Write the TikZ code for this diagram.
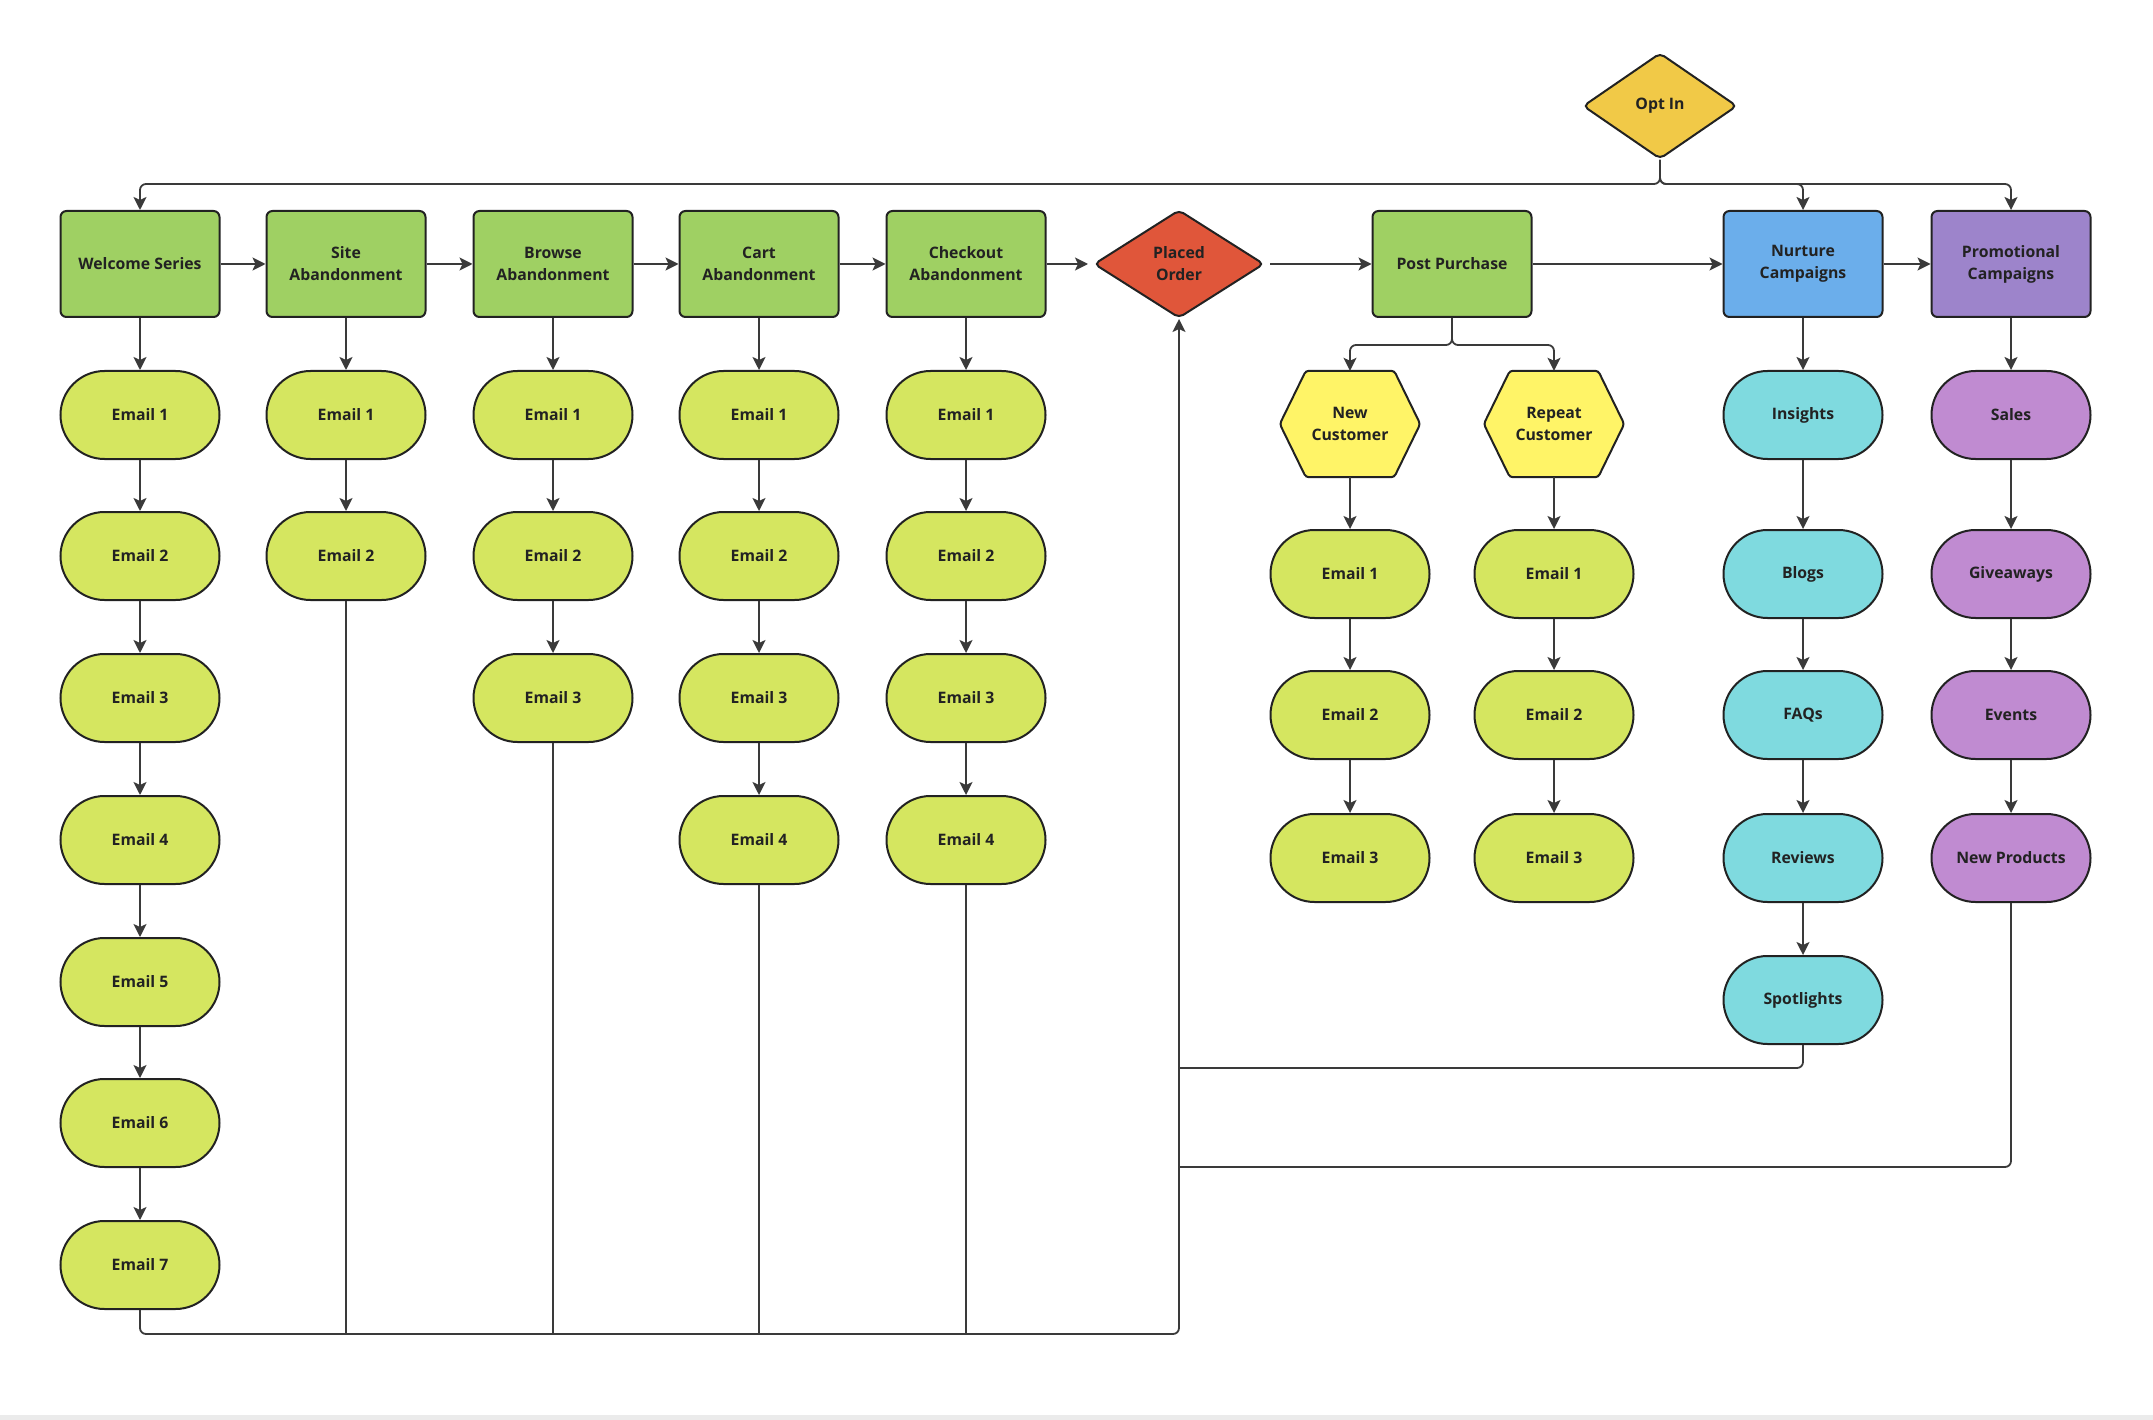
\documentclass[tikz,border=0pt]{standalone}
\usepackage{fontspec}
\setmainfont{Open Sans}
\usetikzlibrary{arrows.meta,shapes.geometric,shapes.misc,backgrounds}

\definecolor{stagegreen}{HTML}{9FD063}
\definecolor{mailgreen}{HTML}{D5E660}
\definecolor{optyellow}{HTML}{F1C947}
\definecolor{orderred}{HTML}{E0563A}
\definecolor{hexyellow}{HTML}{FFF467}
\definecolor{nurtblue}{HTML}{6BAEEB}
\definecolor{promopurple}{HTML}{9D84CB}
\definecolor{nurtcyan}{HTML}{7FDADF}
\definecolor{promopink}{HTML}{C08BD1}
\definecolor{linegray}{HTML}{3A3A3A}
\definecolor{inkdark}{HTML}{222222}

\tikzset{
  every node/.style={font=\fontsize{15.8}{22}\selectfont\bfseries, text=inkdark, align=center},
  stage/.style={rectangle, rounded corners=6pt, draw=inkdark, line width=2pt, fill=stagegreen, minimum width=159pt, minimum height=106pt, inner sep=0pt},
  mail/.style={rounded rectangle, draw=inkdark, line width=2pt, fill=mailgreen, minimum width=159pt, minimum height=88pt, inner sep=0pt},
  decide/.style={diamond, rounded corners=5pt, draw=inkdark, line width=2pt, inner sep=0pt},
  segment/.style={rectangle, minimum width=140pt, minimum height=106pt, inner sep=0pt},
  hexline/.style={draw=inkdark, line width=2pt, fill=hexyellow, rounded corners=3pt},
  wire/.style={draw=linegray, line width=1.8pt, rounded corners=6pt},
  flow/.style={wire, -{Stealth[length=13pt,width=13pt,inset=3pt]}},
}

\begin{document}
\begin{tikzpicture}[x=1pt,y=-1pt]
			%%%%% FRAME %%%%%
			\useasboundingbox (0,0) rectangle (2153,1420);
			\fill[black!8] (0,1415) rectangle (2153,1420);
			
			%%%%% TOP ROW %%%%%
			\node[decide, fill=optyellow, minimum width=154pt, minimum height=106pt] (optin) at (1660,106) {Opt In};
			\node[stage] (welcome) at (140,264) {Welcome Series};
			\node[stage] (site) at (346,264) {Site\\Abandonment};
			\node[stage] (browse) at (553,264) {Browse\\Abandonment};
			\node[stage] (cart) at (759,264) {Cart\\Abandonment};
			\node[stage] (checkout) at (966,264) {Checkout\\Abandonment};
			\node[decide, fill=orderred, minimum width=170pt, minimum height=108pt] (placed) at (1179,264) {Placed\\Order};
			\node[stage] (post) at (1452,264) {Post Purchase};
			\node[stage, fill=nurtblue] (nurture) at (1803,264) {Nurture\\Campaigns};
			\node[stage, fill=promopurple] (promo) at (2011,264) {Promotional\\Campaigns};
			
			%%%%% EMAIL COLUMNS %%%%%
			\node[mail] (w1) at (140,415) {Email 1};
			\node[mail] (w2) at (140,556) {Email 2};
			\node[mail] (w3) at (140,698) {Email 3};
			\node[mail] (w4) at (140,840) {Email 4};
			\node[mail] (w5) at (140,982) {Email 5};
			\node[mail] (w6) at (140,1123) {Email 6};
			\node[mail] (w7) at (140,1265) {Email 7};
			
			\node[mail] (s1) at (346,415) {Email 1};
			\node[mail] (s2) at (346,556) {Email 2};
			
			\node[mail] (b1) at (553,415) {Email 1};
			\node[mail] (b2) at (553,556) {Email 2};
			\node[mail] (b3) at (553,698) {Email 3};
			
			\node[mail] (c1) at (759,415) {Email 1};
			\node[mail] (c2) at (759,556) {Email 2};
			\node[mail] (c3) at (759,698) {Email 3};
			\node[mail] (c4) at (759,840) {Email 4};
			
			\node[mail] (k1) at (966,415) {Email 1};
			\node[mail] (k2) at (966,556) {Email 2};
			\node[mail] (k3) at (966,698) {Email 3};
			\node[mail] (k4) at (966,840) {Email 4};
			
			%%%%% POST PURCHASE %%%%%
			\node[segment] (newcust) at (1350,424) {New\\Customer};
			\node[segment] (repcust) at (1554,424) {Repeat\\Customer};
			\begin{pgfonlayer}{background}
			\draw[hexline] (newcust.west) -- ([xshift=26pt]newcust.north west) -- ([xshift=-26pt]newcust.north east) -- (newcust.east) -- ([xshift=-26pt]newcust.south east) -- ([xshift=26pt]newcust.south west) -- cycle;
			\draw[hexline] (repcust.west) -- ([xshift=26pt]repcust.north west) -- ([xshift=-26pt]repcust.north east) -- (repcust.east) -- ([xshift=-26pt]repcust.south east) -- ([xshift=26pt]repcust.south west) -- cycle;
			\end{pgfonlayer}
			\node[mail] (n1) at (1350,574) {Email 1};
			\node[mail] (n2) at (1350,715) {Email 2};
			\node[mail] (n3) at (1350,858) {Email 3};
			\node[mail] (r1) at (1554,574) {Email 1};
			\node[mail] (r2) at (1554,715) {Email 2};
			\node[mail] (r3) at (1554,858) {Email 3};
			
			%%%%% CAMPAIGNS %%%%%
			\node[mail, fill=nurtcyan] (insights) at (1803,415) {Insights};
			\node[mail, fill=nurtcyan] (blogs) at (1803,574) {Blogs};
			\node[mail, fill=nurtcyan] (faqs) at (1803,715) {FAQs};
			\node[mail, fill=nurtcyan] (reviews) at (1803,858) {Reviews};
			\node[mail, fill=nurtcyan] (spotlights) at (1803,1000) {Spotlights};
			\node[mail, fill=promopink] (sales) at (2011,415) {Sales};
			\node[mail, fill=promopink] (giveaways) at (2011,574) {Giveaways};
			\node[mail, fill=promopink] (events) at (2011,715) {Events};
			\node[mail, fill=promopink] (newprod) at (2011,858) {New Products};
			
			%%%%% CONNECTORS %%%%%
			\coordinate (optsplit) at (1660,184);
			\draw[flow] (optin.south) -- (optsplit) -| (welcome.north);
			\draw[flow] (optin.south) -- (optsplit) -| (nurture.north);
			\draw[flow] (optin.south) -- (optsplit) -| (promo.north);
			
			\draw[flow] (welcome) -- (site);
			\draw[flow] (site) -- (browse);
			\draw[flow] (browse) -- (cart);
			\draw[flow] (cart) -- (checkout);
			\draw[flow, shorten >=5pt] (checkout) -- (placed);
			\draw[flow, shorten <=5pt] (placed) -- (post);
			\draw[flow] (post) -- (nurture);
			\draw[flow] (nurture) -- (promo);
			
			\draw[flow] (welcome) -- (w1);
			\draw[flow] (w1) -- (w2);
			\draw[flow] (w2) -- (w3);
			\draw[flow] (w3) -- (w4);
			\draw[flow] (w4) -- (w5);
			\draw[flow] (w5) -- (w6);
			\draw[flow] (w6) -- (w7);
			\draw[flow] (site) -- (s1);
			\draw[flow] (s1) -- (s2);
			\draw[flow] (browse) -- (b1);
			\draw[flow] (b1) -- (b2);
			\draw[flow] (b2) -- (b3);
			\draw[flow] (cart) -- (c1);
			\draw[flow] (c1) -- (c2);
			\draw[flow] (c2) -- (c3);
			\draw[flow] (c3) -- (c4);
			\draw[flow] (checkout) -- (k1);
			\draw[flow] (k1) -- (k2);
			\draw[flow] (k2) -- (k3);
			\draw[flow] (k3) -- (k4);
			
			\coordinate (postsplit) at (1452,345);
			\draw[flow] (post.south) -- (postsplit) -| (newcust.north);
			\draw[flow] (post.south) -- (postsplit) -| (repcust.north);
			\draw[flow] (newcust) -- (n1);
			\draw[flow] (n1) -- (n2);
			\draw[flow] (n2) -- (n3);
			\draw[flow] (repcust) -- (r1);
			\draw[flow] (r1) -- (r2);
			\draw[flow] (r2) -- (r3);
			
			\draw[flow] (nurture) -- (insights);
			\draw[flow] (insights) -- (blogs);
			\draw[flow] (blogs) -- (faqs);
			\draw[flow] (faqs) -- (reviews);
			\draw[flow] (reviews) -- (spotlights);
			\draw[flow] (promo) -- (sales);
			\draw[flow] (sales) -- (giveaways);
			\draw[flow] (giveaways) -- (events);
			\draw[flow] (events) -- (newprod);
			
			%%%%% RETURN LINES %%%%%
			\coordinate (backjoin) at (1179,1334);
			\coordinate (spotjoin) at (1179,1068);
			\coordinate (promojoin) at (1179,1167);
			\draw[flow] (w7.south) |- (backjoin) -- (placed.south);
			\draw[wire] (s2.south) -- (s2.south |- backjoin);
			\draw[wire] (b3.south) -- (b3.south |- backjoin);
			\draw[wire] (c4.south) -- (c4.south |- backjoin);
			\draw[wire] (k4.south) -- (k4.south |- backjoin);
			\draw[wire] (spotlights.south) |- (spotjoin);
			\draw[wire] (newprod.south) |- (promojoin);
			
		\end{tikzpicture}
\end{document}
